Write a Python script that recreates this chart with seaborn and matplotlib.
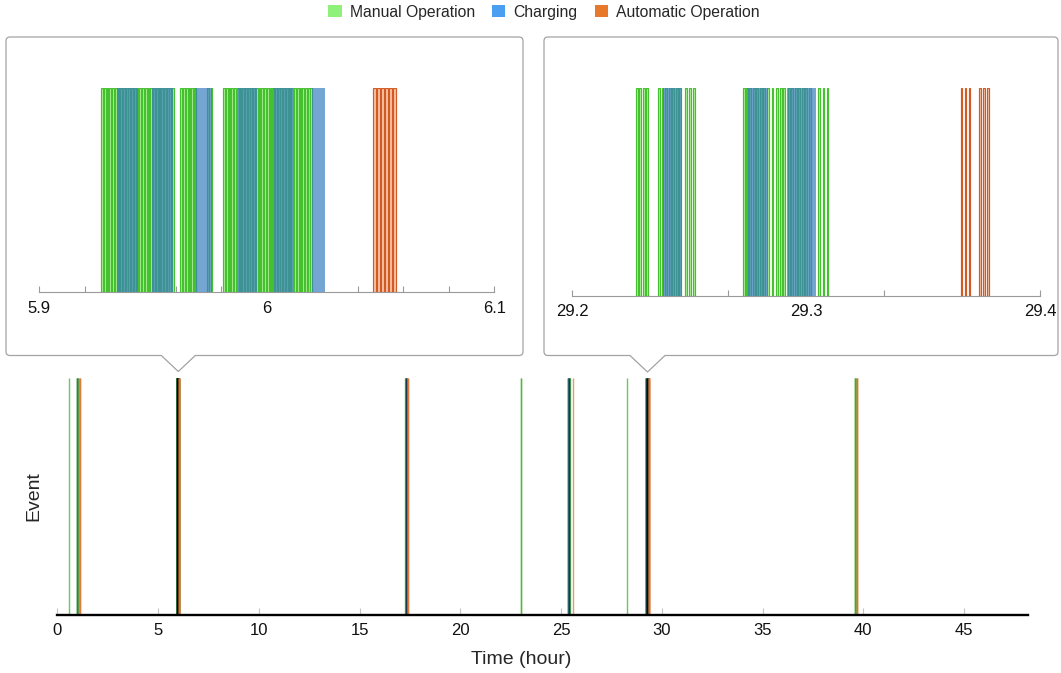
import numpy as np
import matplotlib
matplotlib.use("Agg")
import matplotlib.pyplot as plt
from matplotlib.patches import Patch, PathPatch
from matplotlib.path import Path
import seaborn as sns

# ---- data (hours) ----
manual_times = [
    0.60,
    0.98, 0.99, 1.00, 1.01, 1.02,
    # around 6 h (first zoom)
    5.9272, 5.9284, 5.9296, 5.9308, 5.9320, 5.9332,
    5.9344, 5.9356, 5.9368, 5.9380, 5.9392, 5.9404, 5.9416, 5.9428,
    5.9440, 5.9452, 5.9464, 5.9476, 5.9488,
    5.9500, 5.9512, 5.9524, 5.9536, 5.9548, 5.9560, 5.9572, 5.9584,
    5.9620, 5.9632, 5.9644, 5.9656, 5.9668, 5.9680,
    5.9736, 5.9753,
    5.9808, 5.9820, 5.9832, 5.9844, 5.9856, 5.9868,
    5.9880, 5.9892, 5.9904, 5.9916, 5.9928, 5.9940, 5.9952,
    5.9964, 5.9976, 5.9988, 6.0000, 6.0012, 6.0024,
    6.0036, 6.0048, 6.0060, 6.0072, 6.0084, 6.0096, 6.0108,
    6.0120, 6.0132, 6.0144, 6.0156, 6.0168, 6.0180, 6.0192,
    17.280, 17.285, 17.290, 17.295, 17.300, 17.305,
    17.310, 17.315, 17.320, 17.325, 17.330, 17.335,
    22.99, 23.00,
    25.360, 25.365, 25.370, 25.375, 25.380, 25.385, 25.390,
    25.395, 25.400, 25.405, 25.410, 25.415, 25.420,
    28.27,
    # around 29.3 h (second zoom)
    29.2274, 29.2288, 29.2302, 29.2317,
    29.2369, 29.2383, 29.2398, 29.2413, 29.2428, 29.2443, 29.2458,
    29.2483, 29.2501, 29.2519,
    29.2732, 29.2744, 29.2758, 29.2773, 29.2788, 29.2803, 29.2818, 29.2833,
    29.2853, 29.2871, 29.2889, 29.2903,
    29.2922, 29.2937, 29.2952, 29.2967, 29.2982, 29.2997, 29.3012,
    29.3053, 29.3071, 29.3088,
    39.60, 39.605, 39.61, 39.615,
]
manual_duration = 0.0008

charging_start = [1.000, 5.9340, 5.9494, 5.9684, 5.9875, 6.0029, 6.0197,
                  17.290, 17.310, 25.370, 25.390, 25.410,
                  29.2390, 29.2749, 29.2918]
charging_end = [1.010, 5.9435, 5.9589, 5.9758, 5.9956, 6.0116, 6.0256,
                17.300, 17.320, 25.380, 25.400, 25.420,
                29.2469, 29.2839, 29.3043]

auto_times = [1.100, 1.105, 1.110,
              6.0468, 6.0485, 6.0502, 6.0519, 6.0536, 6.0553,
              17.390, 17.395,
              25.580,
              29.3662, 29.3679, 29.3697, 29.3741, 29.3758, 29.3775,
              39.670, 39.675, 39.680]
auto_duration = [0.001, 0.001, 0.001,
                 0.0013, 0.0013, 0.0013, 0.0013, 0.0013, 0.0013,
                 0.001, 0.001,
                 0.001,
                 0.0005, 0.0005, 0.0005, 0.0005, 0.0005, 0.0005,
                 0.001, 0.001, 0.001]

legend_labels = ["Manual Operation", "Charging", "Automatic Operation"]
main_ticks = [0, 5, 10, 15, 20, 25, 30, 35, 40, 45]
zoom1_ticks = [5.9, 6.0, 6.1]
zoom1_ticklabels = ["5.9", "6", "6.1"]
zoom1_minor = [5.92, 5.94, 5.96, 5.98, 6.02, 6.04, 6.06, 6.08]
zoom2_ticks = [29.2, 29.3, 29.4]
zoom2_ticklabels = ["29.2", "29.3", "29.4"]
zoom2_minor = [29.2667, 29.3333]

# ---- style ----
W, H = 1061, 673
MANUAL_FACE, MANUAL_EDGE = "#b2f29f", "#45c02e"
CHARGE = "#3a7fc0"
AUTO_FACE, AUTO_EDGE = "#f5c6a8", "#d45a24"
LEG_COLORS = ["#8ef27a", "#4a9ff0", "#e8782a"]

sns.set_theme(style="white")
plt.rcParams["font.family"] = ["Liberation Sans", "DejaVu Sans"]


def px_rect(left, top, right, bottom):
    return [left / W, 1 - bottom / H, (right - left) / W, (bottom - top) / H]


def callout(fig, x0, y0, x1, y1, tip_x, tip_y, half, r=4):
    def p(x, y):
        return (x / W, 1 - y / H)
    verts = [p(x0 + r, y0), p(x1 - r, y0), p(x1, y0), p(x1, y0 + r),
             p(x1, y1 - r), p(x1, y1), p(x1 - r, y1),
             p(tip_x + half, y1), p(tip_x, tip_y), p(tip_x - half, y1),
             p(x0 + r, y1), p(x0, y1), p(x0, y1 - r),
             p(x0, y0 + r), p(x0, y0), p(x0 + r, y0), p(x0 + r, y0)]
    codes = [Path.MOVETO, Path.LINETO, Path.CURVE3, Path.CURVE3,
             Path.LINETO, Path.CURVE3, Path.CURVE3,
             Path.LINETO, Path.LINETO, Path.LINETO,
             Path.LINETO, Path.CURVE3, Path.CURVE3,
             Path.LINETO, Path.CURVE3, Path.CURVE3, Path.CLOSEPOLY]
    patch = PathPatch(Path(verts, codes), transform=fig.transFigure,
                      facecolor="white", edgecolor="#a3a3a3", lw=0.9, zorder=-1)
    fig.add_artist(patch)


def draw_zoom(ax, xlim, ticks, labels, minor):
    ax.set_facecolor("none")
    ax.bar(manual_times, 1, width=manual_duration, align="edge",
           color=MANUAL_FACE, edgecolor=MANUAL_EDGE, linewidth=0.85)
    ax.bar(charging_start, 1, width=np.subtract(charging_end, charging_start),
           align="edge", color=CHARGE, alpha=0.7, linewidth=0)
    ax.bar(auto_times, 1, width=auto_duration, align="edge",
           color=AUTO_FACE, edgecolor=AUTO_EDGE, linewidth=0.85)
    ax.set_xlim(*xlim)
    ax.set_ylim(0, 1)
    ax.set_axisbelow(True)
    for s in ["top", "right", "left"]:
        ax.spines[s].set_visible(False)
    ax.spines["bottom"].set_color("#9a9a9a")
    ax.spines["bottom"].set_linewidth(0.8)
    ax.set_yticks([])
    ax.set_xticks(ticks)
    ax.set_xticklabels(labels)
    ax.set_xticks(minor, minor=True)
    ax.tick_params(axis="x", which="both", direction="in", length=4, width=0.8,
                   color="#9a9a9a", labelsize=12, labelcolor="#111111", pad=6,
                   bottom=True)


fig = plt.figure(figsize=(W / 100, H / 100), dpi=100)

# callout boxes behind the zoom panels
callout(fig, 6, 37, 523, 355.5, 178.3, 371.5, 17)
callout(fig, 544, 37, 1058, 355.5, 647.5, 372, 17.5)

# ---- main overview ----
ax = fig.add_axes(px_rect(57.3, 377.7, 1027.5, 615))
ax.set_facecolor("none")
sns.rugplot(x=manual_times, height=1, color="#62d04c", alpha=0.85, lw=1.1,
            expand_margins=False, ax=ax)
sns.rugplot(x=charging_start, height=1, color="#4a90d9", alpha=0.7, lw=1.1,
            expand_margins=False, ax=ax)
# dense clusters darken to near black
sns.rugplot(x=manual_times + charging_start, height=1, color="black", alpha=0.07,
            lw=1.1, expand_margins=False, ax=ax)
sns.rugplot(x=auto_times, height=1, color="#e0702a", alpha=0.7, lw=1.1,
            expand_margins=False, ax=ax)
ax.set_xlim(0, 48.15)
ax.set_ylim(0, 1)
for s in ["top", "right", "left"]:
    ax.spines[s].set_visible(False)
ax.spines["bottom"].set_color("black")
ax.spines["bottom"].set_linewidth(1.7)
ax.set_xticks(main_ticks)
ax.set_xticklabels([str(t) for t in main_ticks])
ax.set_yticks([])
ax.tick_params(axis="x", direction="in", length=5, width=0.8, color="#c4c4c4",
               labelsize=12, labelcolor="#111111", pad=6, bottom=True)
ax.set_xlabel("Time (hour)", fontsize=14)
ax.xaxis.set_label_coords(0.478, -0.152)
ax.set_ylabel("Event", fontsize=14)
ax.yaxis.set_label_coords(-0.015, 0.5)

# ---- zoom panels ----
ax1 = fig.add_axes(px_rect(39.3, 88, 494.3, 292.3))
draw_zoom(ax1, (5.9, 6.1), zoom1_ticks, zoom1_ticklabels, zoom1_minor)
ax2 = fig.add_axes(px_rect(572, 88, 1040, 295.7))
draw_zoom(ax2, (29.2, 29.4), zoom2_ticks, zoom2_ticklabels, zoom2_minor)

# ---- legend ----
handles = [Patch(facecolor=c, edgecolor="none") for c in LEG_COLORS]
fig.legend(handles, legend_labels, loc="center", bbox_to_anchor=(544 / W, 1 - 12 / H),
           ncol=3, frameon=False, fontsize=11.3, handlelength=0.85, handleheight=0.85,
           handletextpad=0.5, columnspacing=1.1)

fig.savefig("out.png", dpi=100)
